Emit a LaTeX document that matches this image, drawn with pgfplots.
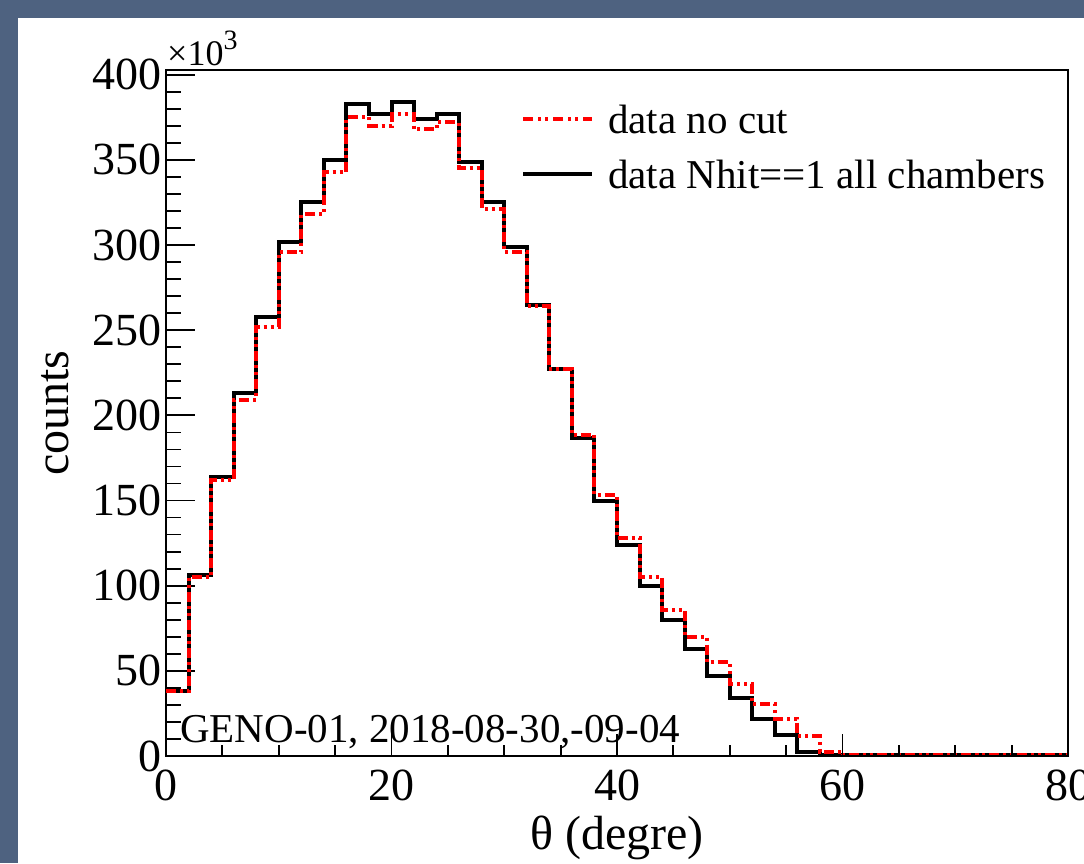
\documentclass[border=0pt]{standalone}
\usepackage{fontspec}
\setmainfont{Liberation Serif}
\usepackage{pgfplots}
\pgfplotsset{compat=1.18}
\usepackage{pgfplotstable}
\definecolor{slide}{RGB}{78,98,128}
\definecolor{rootred}{RGB}{255,0,0}

\pgfplotstableread{
x black red
0 38 38
2 106 105
4 164 162
6 213 209
8 258 252
10 302 296
12 325 318
14 350 343
16 383 375
18 377 370
20 384 377
22 374 368
24 377 372
26 349 345
28 325 321
30 299 296
32 265 264
34 227 227.5
36 187 188.5
38 150 153
40 124 128
42 100 105
44 80 86
46 63 70
48 47 55
50 34 42
52 22 30.5
54 12.5 22
56 2.5 12
58 0.8 2.5
60 0.3 0.8
62 0.3 0.8
64 0.3 0.8
66 0.3 0.8
68 0.3 0.8
70 0.3 0.8
72 0.3 0.8
74 0.3 0.8
76 0.3 0.8
78 0.3 0.8
80 0.3 0.8
}\histdata

\begin{document}
\begin{tikzpicture}[x=1pt,y=1pt]
\fill[slide] (0,0) rectangle (1084,863);
\fill[white] (18,0) rectangle (1084,845);
\useasboundingbox (0,0) rectangle (1084,863);

\begin{axis}[
  at={(166pt,107pt)}, anchor=south west,
  scale only axis, width=902pt, height=686pt,
  xmin=0, xmax=80, ymin=0, ymax=402.8,
  clip=false,
  axis line style={line width=1.8pt},
  xtick=\empty,
  ytick={0,50,...,400}, minor y tick num=4, ytick pos=left,
  tick align=inside,
  major tick length=29pt, minor tick length=15pt,
  every tick/.style={line width=1.8pt, black},
  /pgf/number format/assume math mode=true,
  yticklabel style={font=\fontsize{46}{46}\selectfont, anchor=east, inner sep=0pt, xshift=-4pt},
  ylabel={counts},
  ylabel style={font=\fontsize{48}{48}\selectfont, at={(axis description cs:-0.1086,0.5)}, anchor=base, inner sep=0pt},
  legend image code/.code={\draw[#1] (0pt,0pt) -- (69pt,0pt);},
  legend style={draw=none, fill=none, at={(axis description cs:0.3936,0.949)}, anchor=north west,
    inner sep=0pt, row sep=27pt, font=\fontsize{41}{41}\selectfont,
    nodes={inner sep=0pt, text height=28pt, text depth=0pt},
    /tikz/every odd column/.append style={column sep=14pt}},
  legend cell align=left,
]
\addplot[black, line width=4pt, const plot, forget plot] table[x=x, y=black]{\histdata};
\addplot[rootred, line width=4pt, const plot, forget plot,
  dash pattern=on 10pt off 4pt on 3pt off 4pt on 3pt off 4pt] table[x=x, y=red]{\histdata};
\addlegendimage{rootred, line width=4pt, dash pattern=on 10pt off 5pt on 3pt off 4pt on 3pt off 5pt}
\addlegendentry{data no cut}
\addlegendimage{black, line width=4pt}
\addlegendentry{data Nhit==1 all chambers}
\end{axis}

\begin{axis}[
  at={(166pt,107pt)}, anchor=south west,
  scale only axis, width=902pt, height=686pt,
  xmin=0, xmax=80, ymin=0, ymax=402.8,
  hide y axis,
  axis line style={line width=1.8pt},
  xtick={0,20,40,60,80}, minor x tick num=3, xtick pos=bottom,
  tick align=inside,
  major tick length=22pt, minor tick length=11pt,
  every tick/.style={line width=1.8pt, black},
  /pgf/number format/assume math mode=true,
  xticklabel style={font=\fontsize{46}{46}\selectfont, anchor=north, inner sep=0pt, yshift=-14pt},
  xlabel={θ (degre)},
  xlabel style={font=\fontsize{48}{48}\selectfont, at={(axis description cs:0.5,-0.137)}, anchor=base, inner sep=0pt},
]
\end{axis}

\node[anchor=base west, inner sep=0pt] at (167,797)
  {\fontsize{36}{36}\selectfont ×10\raisebox{16pt}{\fontsize{28}{28}\selectfont 3}};
\node[anchor=base west, inner sep=0pt] at (180,121)
  {\fontsize{41}{41}\selectfont GENO-01, 2018-08-30,-09-04};
\end{tikzpicture}
\end{document}
